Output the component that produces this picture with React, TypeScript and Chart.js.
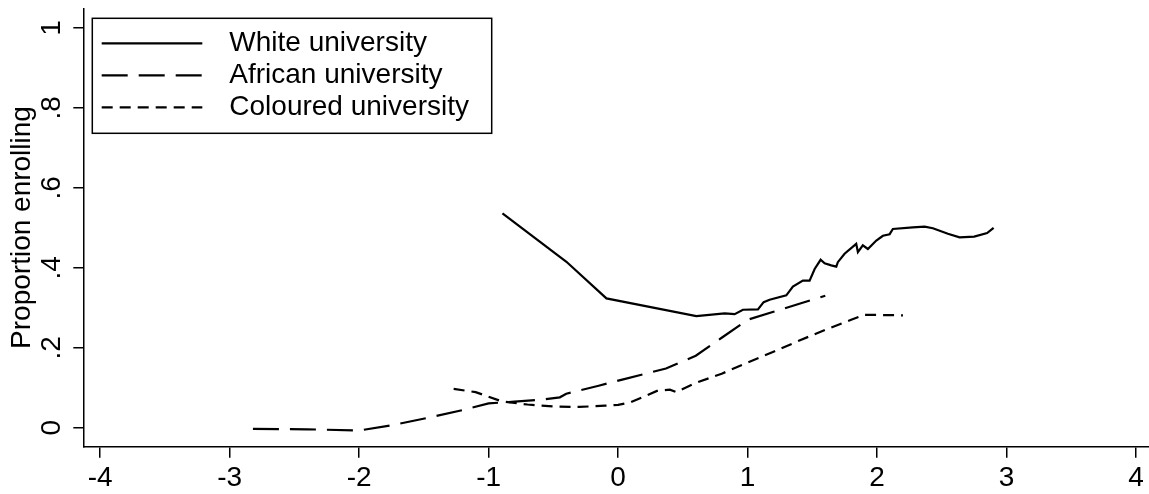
import React, { useEffect, useRef } from "react";
import { Chart, registerables } from "chart.js";

Chart.register(...registerables);

const FONT = '"Liberation Sans", Arial, Helvetica, sans-serif';

// Axis ticks
const xTicks = [-4, -3, -2, -1, 0, 1, 2, 3, 4];
const yTicks = [0, 0.2, 0.4, 0.6, 0.8, 1];
const yTickLabels = ["0", ".2", ".4", ".6", ".8", "1"];
const yTitle = "Proportion enrolling";

// Series labels
const seriesLabels = ["White university", "African university", "Coloured university"];

// White university (solid)
const whiteX = [-0.893, -0.399, -0.09, 0.604, 0.823, 0.9, 0.964, 1.08, 1.124, 1.17, 1.299, 1.35, 1.427, 1.479, 1.518, 1.564, 1.595, 1.646, 1.685, 1.697, 1.749, 1.839, 1.852, 1.89, 1.929, 1.994, 2.045, 2.097, 2.122, 2.276, 2.367, 2.431, 2.547, 2.637, 2.75, 2.85, 2.9];
const whiteY = [0.536, 0.415, 0.3235, 0.279, 0.286, 0.284, 0.295, 0.296, 0.314, 0.32, 0.331, 0.353, 0.368, 0.368, 0.397, 0.42, 0.411, 0.406, 0.403, 0.414, 0.435, 0.46, 0.439, 0.456, 0.447, 0.468, 0.48, 0.484, 0.497, 0.501, 0.503, 0.499, 0.485, 0.476, 0.478, 0.487, 0.5];

// African university (long dash)
const africanX = [-2.82, -2.4, -2.0, -1.75, -1.45, -1.2, -1.0, -0.8, -0.6, -0.45, -0.4, -0.15, 0.04, 0.37, 0.6, 0.8, 1.0, 1.2, 1.4, 1.6];
const africanY = [-0.003, -0.004, -0.007, 0.006, 0.026, 0.044, 0.061, 0.065, 0.07, 0.076, 0.085, 0.105, 0.121, 0.148, 0.18, 0.225, 0.27, 0.29, 0.31, 0.33];

// Coloured university (short dash)
const colouredX = [-1.27, -1.1, -0.9, -0.7, -0.5, -0.3, -0.1, 0.0, 0.1, 0.2, 0.3, 0.4, 0.45, 0.5, 0.6, 0.8, 1.0, 1.2, 1.4, 1.6, 1.8, 1.9, 2.0, 2.2];
const colouredY = [0.097, 0.089, 0.066, 0.058, 0.053, 0.052, 0.055, 0.057, 0.064, 0.078, 0.092, 0.095, 0.089, 0.097, 0.112, 0.135, 0.163, 0.19, 0.218, 0.245, 0.27, 0.282, 0.282, 0.281];

const toPoints = (xs: number[], ys: number[]) => xs.map((x, i) => ({ x, y: ys[i] }));

const boxLegend = {
  id: "boxLegend",
  afterDraw(chart: any) {
    const { ctx, chartArea } = chart;
    const left = chartArea.left + 9;
    const top = chartArea.top + 10;
    const w = 399.4;
    const h = 115;
    ctx.save();
    ctx.strokeStyle = "#000";
    ctx.lineWidth = 1.5;
    ctx.setLineDash([]);
    ctx.strokeRect(left, top, w, h);
    chart.data.datasets.forEach((ds: any, i: number) => {
      const y = top + 25 + i * 32;
      ctx.setLineDash(ds.borderDash || []);
      ctx.lineWidth = ds.borderWidth;
      ctx.strokeStyle = ds.borderColor;
      ctx.beginPath();
      ctx.moveTo(left + 9.4, y);
      ctx.lineTo(left + 110, y);
      ctx.stroke();
      ctx.setLineDash([]);
      ctx.font = `28px ${FONT}`;
      ctx.fillStyle = "#000";
      ctx.textBaseline = "alphabetic";
      ctx.textAlign = "left";
      ctx.fillText(ds.label, left + 137, y + 8);
    });
    ctx.restore();
  },
};

export default function App() {
  const ref = useRef<HTMLCanvasElement | null>(null);
  useEffect(() => {
    if (!ref.current) return;
    const gridOpts = (tl: number) => ({
      display: true,
      drawOnChartArea: false,
      drawTicks: true,
      tickLength: tl,
      color: "#000",
      lineWidth: 1.5,
    });
    const chart = new Chart(ref.current, {
      type: "line",
      data: {
        datasets: [
          {
            label: seriesLabels[0],
            data: toPoints(whiteX, whiteY),
            borderColor: "#000",
            borderWidth: 2.2,
            borderDash: [],
          },
          {
            label: seriesLabels[1],
            data: toPoints(africanX, africanY),
            borderColor: "#000",
            borderWidth: 2.2,
            borderDash: [26, 11],
          },
          {
            label: seriesLabels[2],
            data: toPoints(colouredX, colouredY),
            borderColor: "#000",
            borderWidth: 2.2,
            borderDash: [11, 7],
          },
        ],
      },
      options: {
        animation: false,
        responsive: false,
        devicePixelRatio: 1,
        layout: { padding: { top: 8.3, right: 0, left: 0, bottom: 0 } },
        plugins: { legend: { display: false }, tooltip: { enabled: false } },
        elements: { point: { radius: 0 }, line: { tension: 0 } },
        scales: {
          x: {
            type: "linear",
            min: -4.13,
            max: 4.1,
            afterBuildTicks: (s: any) => {
              s.ticks = xTicks.map((v) => ({ value: v }));
            },
            afterFit: (s: any) => {
              s.height = 47.3;
              s.paddingLeft = 0;
              s.paddingRight = 0;
            },
            grid: gridOpts(11),
            border: { display: true, color: "#000", width: 1.5 },
            ticks: {
              color: "#000",
              font: { family: FONT, size: 28 },
              padding: 4,
              maxRotation: 0,
              autoSkip: false,
              callback: (v: any) => String(v),
            },
          },
          y: {
            type: "linear",
            min: -0.0475,
            max: 1.049,
            afterBuildTicks: (s: any) => {
              s.ticks = yTicks.map((v) => ({ value: v }));
            },
            afterFit: (s: any) => {
              s.width = 83.3;
              s.paddingTop = 0;
              s.paddingBottom = 0;
            },
            grid: gridOpts(10),
            border: { display: true, color: "#000", width: 1.5 },
            ticks: {
              color: "#000",
              font: { family: FONT, size: 28 },
              minRotation: 90,
              maxRotation: 90,
              crossAlign: "center",
              padding: 9.3,
              autoSkip: false,
              callback: (v: any) => {
                const i = yTicks.findIndex((t) => Math.abs(t - v) < 1e-9);
                return i >= 0 ? yTickLabels[i] : "";
              },
            },
            title: {
              display: true,
              text: yTitle,
              color: "#000",
              font: { family: FONT, size: 28, lineHeight: 1 },
              padding: { top: 8.3, bottom: 0 },
            },
          },
        },
      },
      plugins: [boxLegend],
    } as any);
    return () => chart.destroy();
  }, []);
  return (
    <div style={{ position: "fixed", left: 0, top: 0, width: 1149, height: 494, background: "#fff" }}>
      <canvas ref={ref} width={1149} height={494} style={{ width: 1149, height: 494, display: "block" }} />
    </div>
  );
}
